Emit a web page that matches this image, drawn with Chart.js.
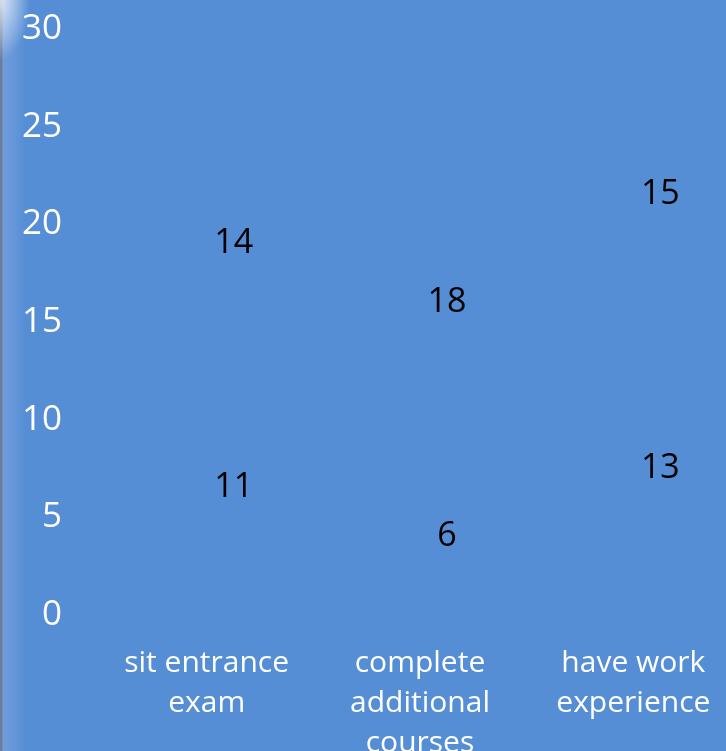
<!DOCTYPE html>
<html>
<head>
<meta charset="utf-8">
<script src="https://cdn.jsdelivr.net/npm/chart.js@4.4.1/dist/chart.umd.min.js"></script>
<style>
    html, body {
        margin: 0;
        padding: 0;
        width: 726px;
        height: 751px;
        overflow: hidden;
        background: #558ed5;
    }
    #edge {
        position: absolute;
        left: 0;
        top: 0;
        width: 40px;
        height: 751px;
        background:
            radial-gradient(ellipse 30px 60px at 0px 0px, rgba(255,255,255,0.75), rgba(255,255,255,0) 100%),
            linear-gradient(to right, rgba(110,125,150,0.9) 0px, rgba(110,125,150,0.9) 2px, rgba(120,160,222,0.8) 3px, rgba(85,142,213,0) 26px);
    }
    #wrap {
        position: absolute;
        left: 0;
        top: -28px;
        width: 740px;
        height: 781px;
    }
</style>
</head>
<body>
<div id="edge"></div>
<div id="wrap"><canvas id="chart"></canvas></div>
<script>
// categorias e valores
const categories = [['sit entrance', 'exam'], ['complete', 'additional', 'courses'], ['have work', 'experience']];
const lowerValues = [11, 6, 13];
const upperValues = [14, 18, 15];
const yTicks = [0, 5, 10, 15, 20, 25, 30];

const fontFamily = '"Open Sans", "Noto Sans", sans-serif';

// desenha os rótulos de valor no centro de cada segmento
const valueLabels = {
    id: 'valueLabels',
    afterDatasetsDraw(chart) {
        const ctx = chart.ctx;
        ctx.save();
        ctx.fillStyle = '#000000';
        ctx.font = '34px ' + fontFamily;
        ctx.textAlign = 'center';
        ctx.textBaseline = 'middle';
        chart.data.datasets.forEach((ds, i) => {
            const meta = chart.getDatasetMeta(i);
            meta.data.forEach((bar, j) => {
                const p = bar.getCenterPoint();
                ctx.fillText(String(ds.data[j]), p.x + 27, p.y - 20);
            });
        });
        ctx.restore();
    }
};

const ctx = document.getElementById('chart').getContext('2d');
new Chart(ctx, {
    type: 'bar',
    data: {
        labels: categories,
        datasets: [
            { label: 'lower', data: lowerValues, backgroundColor: 'rgba(0,0,0,0)', borderWidth: 0 },
            { label: 'upper', data: upperValues, backgroundColor: 'rgba(0,0,0,0)', borderWidth: 0 }
        ]
    },
    options: {
        responsive: true,
        maintainAspectRatio: false,
        animation: false,
        layout: {
            padding: { top: 57, left: 0, right: 0, bottom: 0 }
        },
        plugins: {
            legend: { display: false },
            tooltip: { enabled: false }
        },
        scales: {
            x: {
                stacked: true,
                grid: { display: false },
                border: { display: false },
                afterFit(axis) {
                    axis.height = 138;
                },
                ticks: {
                    color: '#ffffff',
                    padding: 21,
                    maxRotation: 0,
                    autoSkip: false,
                    font: { family: fontFamily, size: 30, lineHeight: 1.32 }
                }
            },
            y: {
                stacked: true,
                min: 0,
                max: 30,
                grid: { display: false },
                border: { display: false },
                afterBuildTicks(axis) {
                    axis.ticks = yTicks.map(v => ({ value: v }));
                },
                afterFit(axis) {
                    axis.width = 100;
                },
                ticks: {
                    color: '#ffffff',
                    padding: 30,
                    font: { family: fontFamily, size: 35 }
                }
            }
        }
    },
    plugins: [valueLabels]
});
</script>
</body>
</html>
